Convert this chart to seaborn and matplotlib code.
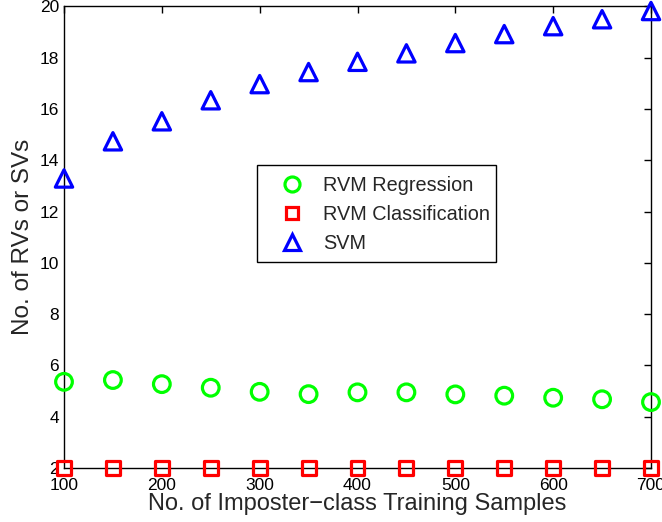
import matplotlib
matplotlib.use("Agg")
import matplotlib.pyplot as plt
import seaborn as sns
import pandas as pd
from matplotlib.lines import Line2D
from matplotlib.patches import Rectangle

# Number of imposter-class training samples
samples = [100, 150, 200, 250, 300, 350, 400, 450, 500, 550, 600, 650, 700]

# Number of relevance / support vectors per model
rvm_regression = [5.36, 5.43, 5.27, 5.13, 4.97, 4.88, 4.95, 4.95, 4.87, 4.82, 4.74, 4.68, 4.57]
rvm_classification = [2, 2, 2, 2, 2, 2, 2, 2, 2, 2, 2, 2, 2]
svm = [13.29, 14.74, 15.52, 16.34, 16.97, 17.44, 17.84, 18.17, 18.57, 18.92, 19.23, 19.50, 19.82]

series_names = ["RVM Regression", "RVM Classification", "SVM"]
series_colors = ["#00ff00", "#ff0000", "#0000ff"]
series_markers = ["o", "s", "^"]
series_sizes = [12, 10, 12.5]  # marker size in points
edge_width = 2.3

sns.set_style("white")
plt.rcParams["font.family"] = ["Liberation Sans", "DejaVu Sans"]

fig = plt.figure(figsize=(6.62, 5.22), dpi=100)
ax = fig.add_axes([64 / 662, 54 / 522, 587 / 662, 461.6 / 522])

values = [rvm_regression, rvm_classification, svm]
for name, vals, col, mk, ms in zip(series_names, values, series_colors, series_markers, series_sizes):
    df = pd.DataFrame({"n": samples, "count": vals})
    sns.scatterplot(data=df, x="n", y="count", ax=ax, marker=mk, s=ms ** 2,
                    color=col, legend=False, zorder=3)
    coll = ax.collections[-1]
    coll.set_facecolor("none")
    coll.set_edgecolor(col)
    coll.set_linewidth(edge_width)
    coll.set_clip_on(False)

ax.set_xlim(100, 700)
ax.set_ylim(2, 20)
ax.set_xticks(range(100, 701, 100))
ax.set_yticks(range(2, 21, 2))

for side in ["left", "right", "top", "bottom"]:
    ax.spines[side].set_visible(True)
    ax.spines[side].set_color("black")
    ax.spines[side].set_linewidth(1.0)

ax.tick_params(direction="in", length=5, width=1.0, top=True, right=True,
               labelsize=12.5, colors="black")
ax.tick_params(axis="x", pad=7)
ax.tick_params(axis="y", pad=3.5)

ax.set_xlabel("No. of Imposter\u2212class Training Samples", fontsize=17, labelpad=0)
ax.set_ylabel("No. of RVs or SVs", fontsize=17.5, labelpad=4)

# Legend entries with a hand-drawn rectangular frame
handles = [Line2D([], [], linestyle="none", marker=mk, markersize=ms * 0.9,
                  markerfacecolor="none", markeredgecolor=col, markeredgewidth=edge_width)
           for col, mk, ms in zip(series_colors, series_markers, series_sizes)]
leg = ax.legend(handles, series_names, loc="upper left",
                bbox_to_anchor=(0.3685, 0.633), fontsize=14.3, frameon=False,
                borderpad=0, labelspacing=0.5, handlelength=1.2,
                handletextpad=0.95, borderaxespad=0)
ax.add_patch(Rectangle((0.3288, 0.4463), 0.7359 - 0.3288, 0.6564 - 0.4463,
                       transform=ax.transAxes, facecolor="white",
                       edgecolor="black", linewidth=1.0, zorder=2.5))

fig.savefig("out.png", dpi=100)
